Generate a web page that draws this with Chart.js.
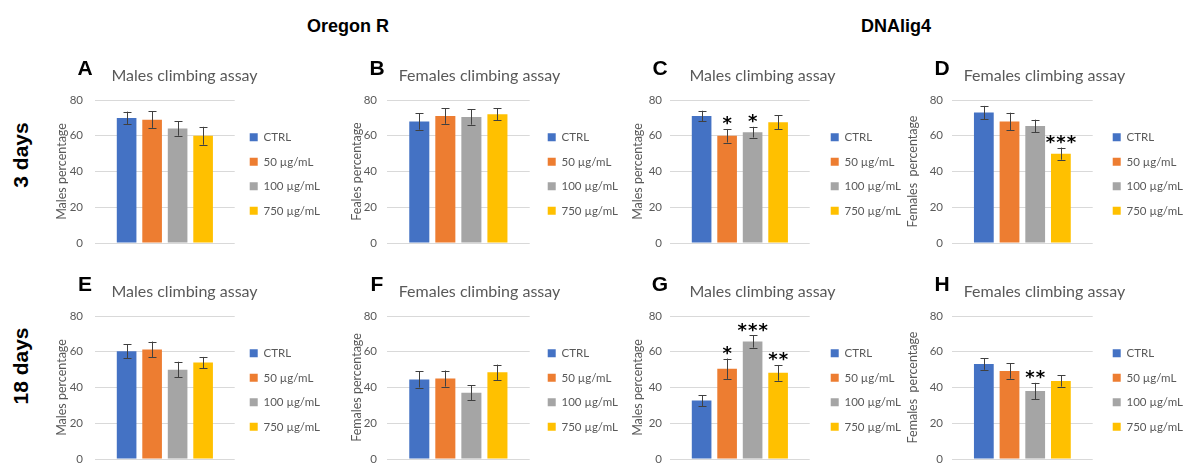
<!DOCTYPE html>
<html><head><meta charset="utf-8">
<script src="https://cdn.jsdelivr.net/npm/chart.js@4/dist/chart.umd.min.js"></script>
<style>
html,body{margin:0;padding:0;background:#fff;}
#fig{position:relative;width:1185px;height:463px;overflow:hidden;background:#fff;}
.hdr{position:absolute;font:bold 18px "Liberation Sans",Arial,sans-serif;color:#000;white-space:nowrap;transform:translateX(-50%);line-height:18px;}
.rowlab{position:absolute;font:bold 21px "Liberation Sans",Arial,sans-serif;color:#000;white-space:nowrap;transform:translate(-50%,-50%) rotate(-90deg);line-height:21px;}
canvas{position:absolute;}
</style></head><body>
<div id="fig"></div>
<script>
// ---------- data ----------
const columnHeaders = ['Oregon R', 'DNAlig4'];
const rowHeaders = ['3 days', '18 days'];
const doseLabels = ['CTRL', '50 µg/mL', '100 µg/mL', '750 µg/mL'];
const yTickValues = [0, 20, 40, 60, 80];
const panelLetters = ['A', 'B', 'C', 'D', 'E', 'F', 'G', 'H'];
const panelTitles = ['Males climbing assay', 'Females climbing assay', 'Males climbing assay', 'Females climbing assay',
                     'Males climbing assay', 'Females climbing assay', 'Males climbing assay', 'Females climbing assay'];
const yAxisTitles = ['Males percentage', 'Feales percentage', 'Males percentage', 'Females  percentage',
                     'Males percentage', 'Females percentage', 'Males percentage', 'Females  percentage'];

const meanA = [70, 69, 64, 60];       const errA = [3.5, 4.6, 4.0, 5.0]; const sigA = ['', '', '', ''];
const meanB = [68, 71, 70.5, 72];     const errB = [4.6, 4.3, 4.3, 3.4]; const sigB = ['', '', '', ''];
const meanC = [71, 60, 62, 67.5];     const errC = [3.0, 3.8, 3.0, 3.9]; const sigC = ['', '*', '*', ''];
const meanD = [73, 68, 65.5, 50];     const errD = [3.7, 4.9, 3.5, 3.4]; const sigD = ['', '', '', '***'];
const meanE = [60.3, 61.3, 50, 54];   const errE = [4.0, 4.4, 4.4, 3.1]; const sigE = ['', '', '', ''];
const meanF = [44.5, 45, 37, 48.5];   const errF = [4.5, 4.5, 4.2, 4.3]; const sigF = ['', '', '', ''];
const meanG = [32.7, 50.5, 65.7, 48.2]; const errG = [3.1, 5.7, 3.4, 4.4]; const sigG = ['', '*', '***', '**'];
const meanH = [53.2, 49.2, 38, 43.7]; const errH = [3.3, 4.3, 4.6, 3.2]; const sigH = ['', '', '**', ''];

const panelMeans = [meanA, meanB, meanC, meanD, meanE, meanF, meanG, meanH];
const panelErrors = [errA, errB, errC, errD, errE, errF, errG, errH];
const panelSig = [sigA, sigB, sigC, sigD, sigE, sigF, sigG, sigH];

// ---------- style / layout ----------
const barColors = ['#4472C4', '#ED7D31', '#A5A5A5', '#FFC000'];
const textGray = '#595959';
const colLayout = [
  {plotLeft: 95,  plotWidth: 140, gap: 2, yTitlePad: 15.5, tickPad: 12},
  {plotLeft: 387, plotWidth: 143, gap: 5, yTitlePad: 18.5, tickPad: 10},
  {plotLeft: 670, plotWidth: 140, gap: 8, yTitlePad: 16.5, tickPad: 8},
  {plotLeft: 952, plotWidth: 141, gap: 7, yTitlePad: 9.5,  tickPad: 9}
];
const rowTop = [50, 266];
const AXIS_W = 56, CANVAS_H = 197;
const LEG_FONT = 11.5, LEG_BOX = 8, LEG_PAD = 13;

Chart.defaults.font.family = 'Lato';

const fig = document.getElementById('fig');
function addDiv(cls, text, left, top) {
  const d = document.createElement('div');
  d.className = cls; d.textContent = text;
  d.style.left = left + 'px'; d.style.top = top + 'px';
  fig.appendChild(d);
}
addDiv('hdr', columnHeaders[0], 348, 17);
addDiv('hdr', columnHeaders[1], 896, 17);
addDiv('rowlab', rowHeaders[0], 20, 155);
addDiv('rowlab', rowHeaders[1], 20, 366);

// legend width measured with the same font Chart.js will use
const mctx = document.createElement('canvas').getContext('2d');
mctx.font = 'normal ' + LEG_FONT + 'px Lato';
const maxLegText = Math.max(...doseLabels.map(t => mctx.measureText(t).width));
const legendW = LEG_PAD + LEG_BOX + LEG_FONT / 2 + maxLegText + 10;

const errorBarPlugin = {
  id: 'errorBars',
  afterDatasetsDraw(chart) {
    const ctx = chart.ctx, y = chart.scales.y;
    ctx.save();
    chart.data.datasets.forEach((ds, i) => {
      const bar = chart.getDatasetMeta(i).data[0];
      const v = ds.data[0], e = ds.errorBars[0];
      const yt = y.getPixelForValue(v + e), yb = y.getPixelForValue(v - e);
      const x = Math.round(bar.x) + 0.5;
      ctx.strokeStyle = '#404040'; ctx.lineWidth = 1;
      ctx.beginPath();
      ctx.moveTo(x, yt); ctx.lineTo(x, yb);
      ctx.moveTo(x - 4, Math.round(yt) + 0.5); ctx.lineTo(x + 4, Math.round(yt) + 0.5);
      ctx.moveTo(x - 4, Math.round(yb) + 0.5); ctx.lineTo(x + 4, Math.round(yb) + 0.5);
      ctx.stroke();
      const s = ds.sig;
      if (s) {
        ctx.font = 'bold 18px "DejaVu Sans"';
        ctx.fillStyle = '#000';
        ctx.textAlign = 'center';
        ctx.textBaseline = 'alphabetic';
        const m = ctx.measureText('*');
        const yc = yt - 8;
        const base = yc - (m.actualBoundingBoxDescent - m.actualBoundingBoxAscent) / 2;
        const pitch = 10.5;
        for (let k = 0; k < s.length; k++) {
          ctx.fillText(s[k], bar.x - (s.length - 1) * pitch / 2 + k * pitch, base);
        }
      }
    });
    ctx.restore();
  },
  afterDraw(chart, args, opts) {
    const ctx = chart.ctx;
    ctx.save();
    ctx.font = 'bold 21px "Liberation Sans"';
    ctx.fillStyle = '#000';
    ctx.textAlign = 'center';
    ctx.textBaseline = 'alphabetic';
    ctx.fillText(opts.letter, chart.chartArea.left - 10, 25);
    ctx.restore();
  }
};

for (let p = 0; p < 8; p++) {
  const col = colLayout[p % 4];
  const row = Math.floor(p / 4);
  const W = Math.round(AXIS_W + col.plotWidth + col.gap + legendW);
  const cv = document.createElement('canvas');
  cv.width = W; cv.height = CANVAS_H;
  cv.style.width = W + 'px'; cv.style.height = CANVAS_H + 'px';
  cv.style.left = (col.plotLeft - AXIS_W) + 'px';
  cv.style.top = rowTop[row] + 'px';
  fig.appendChild(cv);

  new Chart(cv, {
    type: 'bar',
    data: {
      labels: [''],
      datasets: doseLabels.map((lab, i) => ({
        label: lab,
        data: [panelMeans[p][i]],
        errorBars: [panelErrors[p][i]],
        sig: panelSig[p][i],
        backgroundColor: barColors[i],
        borderWidth: 0,
        categoryPercentage: 0.73,
        barPercentage: 0.77
      }))
    },
    options: {
      responsive: false,
      animation: false,
      events: [],
      layout: {padding: {left: 0, right: 0, top: 0, bottom: 4}},
      scales: {
        x: {display: false},
        y: {
          min: yTickValues[0], max: yTickValues[yTickValues.length - 1],
          afterBuildTicks(s) { s.ticks = yTickValues.map(v => ({value: v})); },
          ticks: {padding: col.tickPad, color: textGray, font: {size: 11.5}},
          grid: {color: '#d9d9d9', drawTicks: false, lineWidth: 1},
          border: {display: false},
          title: {display: true, text: yAxisTitles[p], color: textGray, font: {size: 12.5},
                  padding: {top: col.yTitlePad, bottom: 0}},
          afterFit(s) { s.width = AXIS_W; s.paddingTop = 0; s.paddingBottom = 0; }
        },
        gap: {
          type: 'linear', position: 'right', display: true,
          grid: {display: false}, border: {display: false}, ticks: {display: false},
          afterFit(s) { s.width = col.gap; s.paddingTop = 0; s.paddingBottom = 0; }
        }
      },
      plugins: {
        title: {display: true, text: panelTitles[p], color: textGray,
                font: {size: 16, weight: 'normal'}, padding: {top: 16.6, bottom: 14.2}},
        legend: {
          position: 'right', align: 'center', fullSize: false, maxWidth: 400,
          title: {display: true, text: ' ', font: {size: 1}, padding: {top: 4, bottom: 0}},
          labels: {boxWidth: LEG_BOX, boxHeight: LEG_BOX, padding: LEG_PAD, color: textGray,
                   font: {size: LEG_FONT}}
        },
        tooltip: {enabled: false},
        errorBars: {letter: panelLetters[p]}
      }
    },
    plugins: [errorBarPlugin]
  });
}
</script>
</body></html>
